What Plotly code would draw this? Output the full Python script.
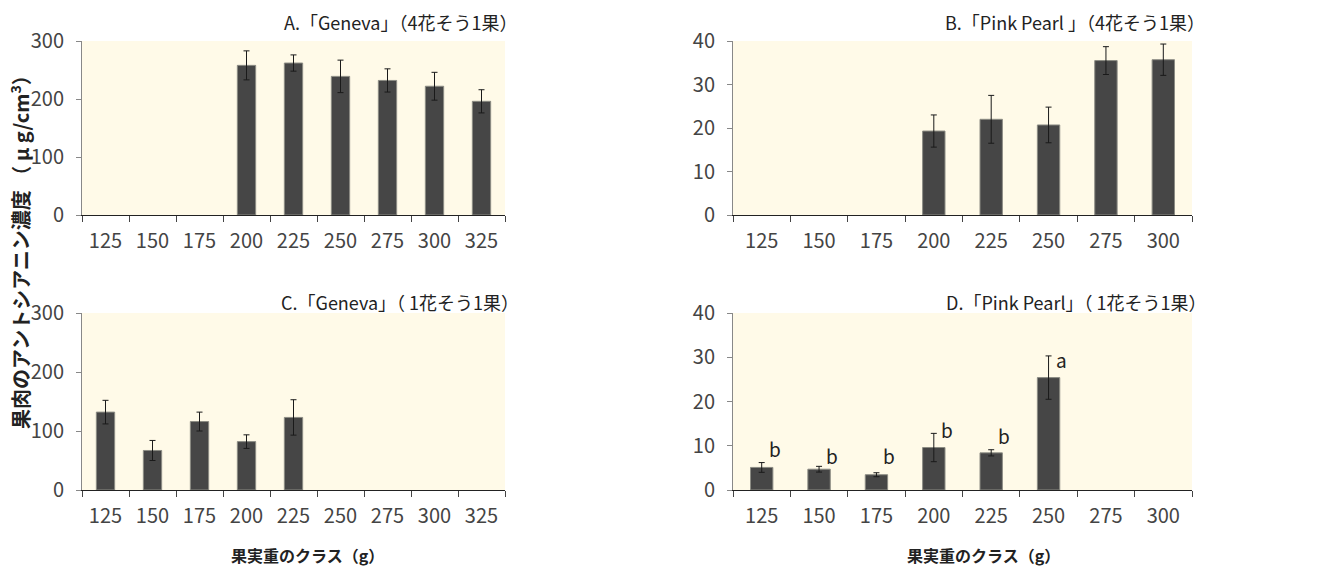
import plotly.graph_objects as go

W, H = 1319, 572

# Fruit weight classes (g)
classes_9 = ["125", "150", "175", "200", "225", "250", "275", "300", "325"]
classes_8 = ["125", "150", "175", "200", "225", "250", "275", "300"]

# A: Geneva, 4 flowers/cluster -> 1 fruit
a_x = ["200", "225", "250", "275", "300", "325"]
a_y = [258, 262, 239, 232, 222, 196]
a_err = [25, 14, 28, 20, 24, 20]

# B: Pink Pearl, 4 flowers/cluster -> 1 fruit
b_x = ["200", "225", "250", "275", "300"]
b_y = [19.3, 22.0, 20.7, 35.5, 35.7]
b_err = [3.7, 5.5, 4.1, 3.2, 3.6]

# C: Geneva, 1 flower/cluster -> 1 fruit
c_x = ["125", "150", "175", "200", "225"]
c_y = [132, 67, 116, 82, 123]
c_err = [20, 17, 16, 11.5, 30]

# D: Pink Pearl, 1 flower/cluster -> 1 fruit
d_x = ["125", "150", "175", "200", "225", "250"]
d_y = [5.1, 4.7, 3.45, 9.6, 8.4, 25.4]
d_err = [1.1, 0.65, 0.45, 3.2, 0.7, 4.9]
d_letters = ["b", "b", "b", "b", "b", "a"]
d_letter_y = [9.3, 7.8, 7.8, 13.7, 12.4, 29.4]

titles = [
    "A.「Geneva」（4花そう1果）",
    "B.「Pink Pearl 」（4花そう1果）",
    "C.「Geneva」（ 1花そう1果）",
    "D.「Pink Pearl」（ 1花そう1果）",
]
y_title = "果肉のアントシアニン濃度 （ μ g/cm<sup>3</sup>）"
x_title = "果実重のクラス（g）"

FONT = "Liberation Sans Narrow, Noto Sans CJK JP, sans-serif"
CJK = "Noto Sans CJK JP, sans-serif"
BAR = "#464646"
BG = "#FFFAE8"


def px_x(v):
    return v / W


def px_y(v):
    return 1 - v / H


# panel boxes in pixels: (left, right, top, bottom)
boxes = {
    1: (82, 505, 41, 215),
    2: (733, 1192, 41, 215),
    3: (82, 505, 313, 490),
    4: (733, 1192, 313, 490),
}

panels = [
    (1, a_x, a_y, a_err, classes_9, 300, 100),
    (2, b_x, b_y, b_err, classes_8, 40, 10),
    (3, c_x, c_y, c_err, classes_9, 300, 100),
    (4, d_x, d_y, d_err, classes_8, 40, 10),
]

fig = go.Figure()
layout = dict(
    width=W, height=H,
    margin=dict(l=0, r=0, t=0, b=0, autoexpand=False),
    paper_bgcolor="white",
    plot_bgcolor=BG,
    showlegend=False,
    font=dict(family=FONT, color="#333333"),
)

for i, xs, ys, errs, cats, ymax, dt in panels:
    sfx = "" if i == 1 else str(i)
    l, r, t, b = boxes[i]
    fig.add_trace(go.Bar(
        x=xs, y=ys,
        xaxis="x" + sfx, yaxis="y" + sfx,
        marker=dict(color=BAR, line=dict(color="#8c8c84", width=1)),
        error_y=dict(type="data", array=errs, visible=True,
                     color="#1a1a1a", thickness=1, width=3),
        width=0.39,
    ))
    layout["xaxis" + sfx] = dict(
        domain=[px_x(l), px_x(r)], anchor="y" + sfx,
        type="category", categoryorder="array", categoryarray=cats,
        range=[-0.5, len(cats) - 0.5],
        showline=True, linecolor="#222222", linewidth=1,
        ticks="outside", tickson="boundaries", ticklen=6,
        tickcolor="#444444", tickwidth=1,
        tickfont=dict(size=20, color="#444444", family=FONT),
        ticklabelstandoff=8, automargin=False,
        showgrid=False, zeroline=False, fixedrange=True,
    )
    layout["yaxis" + sfx] = dict(
        domain=[px_y(b), px_y(t)], anchor="x" + sfx,
        range=[0, ymax], dtick=dt, tick0=0,
        showline=True, linecolor="#888888", linewidth=1,
        ticks="outside", ticklen=5, tickcolor="#888888",
        tickfont=dict(size=20, color="#444444", family=FONT),
        ticklabelstandoff=8, automargin=False,
        showgrid=False, zeroline=False, fixedrange=True,
    )

fig.update_layout(**layout)

# panel titles, right-aligned above each plot
title_pos = [(519, 22), (1207, 22), (521, 302), (1209, 302)]
for txt, (xr, yc) in zip(titles, title_pos):
    fig.add_annotation(
        text=txt, xref="paper", yref="paper",
        x=px_x(xr), y=px_y(yc), xanchor="right", yanchor="middle",
        showarrow=False, font=dict(size=18, color="#222222", family=FONT),
    )

# significance letters in panel D (x given as category index)
for k, (lab, ly) in enumerate(zip(d_letters, d_letter_y)):
    fig.add_annotation(
        text=lab, x=classes_8.index(d_x[k]), y=ly, xref="x4", yref="y4",
        xshift=13, showarrow=False,
        font=dict(size=19, color="#222222", family=FONT),
    )

# shared axis titles
fig.add_annotation(
    text=f"<b>{y_title}</b>", xref="paper", yref="paper",
    x=px_x(20), y=px_y(247), textangle=-90,
    xanchor="center", yanchor="middle", showarrow=False,
    font=dict(size=20, color="#222222", family=CJK),
)
for xc in (307, 983):
    fig.add_annotation(
        text=f"<b>{x_title}</b>", xref="paper", yref="paper",
        x=px_x(xc), y=px_y(555), xanchor="center", yanchor="middle",
        showarrow=False,
        font=dict(size=16, color="#222222", family=CJK),
    )

fig.write_html("out.html")
